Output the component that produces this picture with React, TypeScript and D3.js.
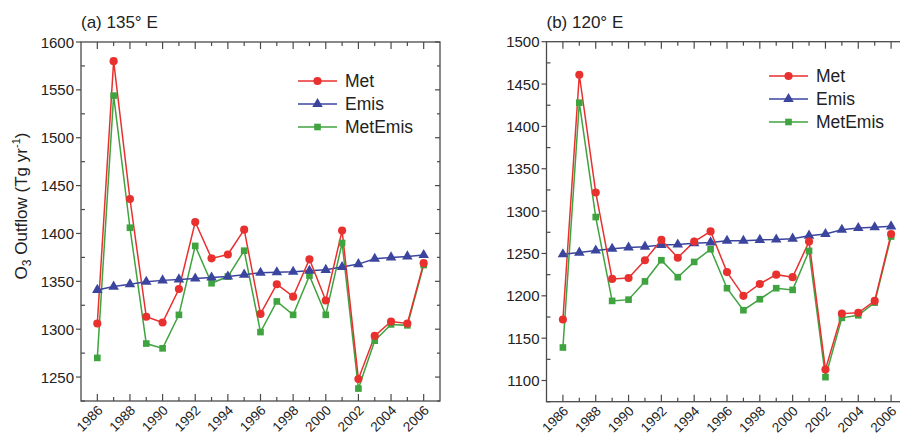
import React from "react";
import * as d3 from "d3";

const years = d3.range(1986, 2007);

const metA = [1306, 1580, 1436, 1313, 1307, 1342, 1412, 1374, 1378, 1404, 1316, 1347, 1334, 1373, 1330, 1403, 1248, 1293, 1308, 1306, 1369];
const emisA = [1341, 1344.5, 1347, 1349.5, 1351, 1352, 1353, 1354, 1355, 1357, 1359, 1359.5, 1360, 1361, 1362, 1365, 1368, 1373.5, 1375, 1376, 1377.5];
const metEmisA = [1270, 1544, 1406, 1285, 1280, 1315, 1387, 1348, 1355, 1382, 1297, 1329, 1315, 1356, 1315, 1390, 1238, 1288, 1305, 1304, 1367];

const metB = [1172, 1461, 1322, 1220, 1221, 1242, 1266, 1245, 1264, 1276, 1228, 1200, 1214, 1225, 1222, 1264, 1113, 1179, 1180, 1194, 1273];
const emisB = [1249, 1251, 1253.5, 1255.5, 1257, 1258, 1260, 1260.5, 1262, 1263, 1265, 1265, 1266, 1266.5, 1267.5, 1271, 1273, 1278, 1280, 1281, 1282];
const metEmisB = [1139, 1428, 1293, 1194, 1195.5, 1217, 1242, 1222, 1240, 1255, 1209, 1183, 1196, 1209, 1207, 1253, 1104, 1174, 1177, 1192, 1270];

const seriesNames = ["Met", "Emis", "MetEmis"];
const seriesColors = ["#e8312f", "#3b459e", "#3fa33f"];
const seriesSymbols = [d3.symbolCircle, d3.symbolTriangle, d3.symbolSquare];
const symbolSizes = [52, 48, 44];

const FONT = "'Liberation Sans', Arial, Helvetica, sans-serif";
const AXIS = "#4a4a4a";
const TEXT = "#222";

type PanelProps = {
  title: string;
  x0: number;
  x1: number;
  y0: number;
  y1: number;
  yDomain: [number, number];
  series: number[][];
  legendX: number;
  legendY: number;
};

function Panel({ title, x0, x1, y0, y1, yDomain, series, legendX, legendY }: PanelProps) {
  const x = d3.scaleLinear().domain([1985, 2007]).range([x0, x1]);
  const y = d3.scaleLinear().domain(yDomain).range([y1, y0]);
  const line = d3
    .line<number>()
    .x((_, i) => x(years[i]))
    .y((d) => y(d));
  const yTicks = d3.range(yDomain[0], yDomain[1] + 0.1, 25);
  const drawOrder = [2, 1, 0];

  return (
    <g>
      <text x={x0} y={28} fontSize={17} fontFamily={FONT} fill={TEXT}>
        {title}
      </text>
      {/* frame */}
      <rect x={x0} y={y0} width={x1 - x0} height={y1 - y0} fill="none" stroke={AXIS} strokeWidth={1.3} />
      {/* x ticks */}
      {years.map((yr) => {
        const major = yr % 2 === 0;
        const len = major ? 7 : 4;
        return (
          <g key={"xt" + yr}>
            <line x1={x(yr)} x2={x(yr)} y1={y1} y2={y1 - len} stroke={AXIS} strokeWidth={1.2} />
            <line x1={x(yr)} x2={x(yr)} y1={y0} y2={y0 + len} stroke={AXIS} strokeWidth={1.2} />
            {major && (
              <text
                transform={`translate(${x(yr) + 3},${y1 + 7}) rotate(-45)`}
                textAnchor="end"
                dominantBaseline="central"
                fontSize={13.5}
                fontFamily={FONT}
                fill={TEXT}
              >
                {yr}
              </text>
            )}
          </g>
        );
      })}
      {/* y ticks */}
      {yTicks.map((v) => {
        const major = v % 50 === 0;
        return (
          <g key={"yt" + v}>
            {major ? (
              <line x1={x0} x2={x0 - 5} y1={y(v)} y2={y(v)} stroke={AXIS} strokeWidth={1.2} />
            ) : (
              <line x1={x0} x2={x0 + 4} y1={y(v)} y2={y(v)} stroke={AXIS} strokeWidth={1.2} />
            )}
            <line x1={x1} x2={x1 - (major ? 5 : 3)} y1={y(v)} y2={y(v)} stroke={AXIS} strokeWidth={1.2} />
            {major && (
              <text
                x={x0 - 7}
                y={y(v)}
                textAnchor="end"
                dominantBaseline="central"
                fontSize={15}
                fontFamily={FONT}
                fill={TEXT}
              >
                {v}
              </text>
            )}
          </g>
        );
      })}
      {/* lines */}
      {drawOrder.map((s) => (
        <path key={"l" + s} d={line(series[s]) || ""} fill="none" stroke={seriesColors[s]} strokeWidth={1.5} />
      ))}
      {/* markers */}
      {drawOrder.map((s) =>
        series[s].map((v, i) => (
          <path
            key={"m" + s + "-" + i}
            d={d3.symbol().type(seriesSymbols[s]).size(symbolSizes[s])() || ""}
            transform={`translate(${x(years[i])},${y(v)})`}
            fill={seriesColors[s]}
          />
        ))
      )}
      {/* legend */}
      {seriesNames.map((name, i) => {
        const ly = legendY + i * 23;
        return (
          <g key={"lg" + name}>
            <line x1={legendX} x2={legendX + 39} y1={ly} y2={ly} stroke={seriesColors[i]} strokeWidth={1.5} />
            <path
              d={d3.symbol().type(seriesSymbols[i]).size(symbolSizes[i])() || ""}
              transform={`translate(${legendX + 19.5},${ly})`}
              fill={seriesColors[i]}
            />
            <text
              x={legendX + 47}
              y={ly}
              dominantBaseline="central"
              fontSize={17.5}
              fontFamily={FONT}
              fill={TEXT}
            >
              {name}
            </text>
          </g>
        );
      })}
    </g>
  );
}

export default function App() {
  return (
    <svg
      width={900}
      height={434}
      style={{ position: "absolute", left: 0, top: 0, background: "#fff" }}
    >
      <rect x={0} y={0} width={900} height={434} fill="#fff" />
      <text
        transform="translate(27,206) rotate(-90)"
        textAnchor="middle"
        fontSize={17}
        fontFamily={FONT}
        fill={TEXT}
      >
        O<tspan fontSize={12} dy={4}>3</tspan>
        <tspan dy={-4}> Outflow (Tg yr</tspan>
        <tspan fontSize={11} dy={-7}>-1</tspan>
        <tspan dy={7}>)</tspan>
      </text>
      <Panel
        title="(a) 135° E"
        x0={81}
        x1={440}
        y0={42}
        y1={401}
        yDomain={[1225, 1600]}
        series={[metA, emisA, metEmisA]}
        legendX={298}
        legendY={81}
      />
      <Panel
        title="(b) 120° E"
        x0={546.5}
        x1={907.5}
        y0={41.7}
        y1={401.7}
        yDomain={[1075, 1500]}
        series={[metB, emisB, metEmisB]}
        legendX={769}
        legendY={76}
      />
    </svg>
  );
}
